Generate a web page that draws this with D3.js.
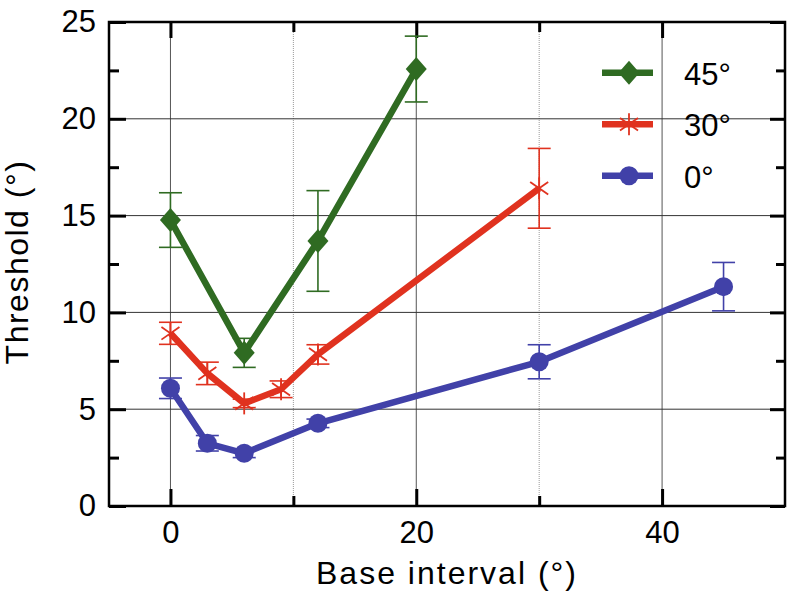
<!DOCTYPE html>
<html><head><meta charset="utf-8">
<script src="https://cdn.jsdelivr.net/npm/d3@7"></script>
<style>body{margin:0;background:#fff}svg{display:block}</style>
</head><body>
<svg id="chart" width="789" height="594"></svg>
<script>
// ---- data ----
const seriesNames = ["45°", "30°", "0°"];
const x45 = [0, 6, 12, 20];
const y45 = [14.77, 7.91, 13.69, 22.57];
const e45 = [1.41, 0.75, 2.6, 1.7];
const x30 = [0, 3, 6, 9, 12, 30];
const y30 = [8.92, 6.85, 5.3, 6.03, 7.83, 16.41];
const e30 = [0.57, 0.58, 0.22, 0.43, 0.5, 2.06];
const x0 = [0, 3, 6, 12, 30, 45];
const y0 = [6.08, 3.24, 2.72, 4.27, 7.45, 11.33];
const e0 = [0.53, 0.4, 0.22, 0.22, 0.88, 1.25];
const xTickLabels = [0, 20, 40];
const xMinorTicks = [10, 30];
const yTickLabels = [0, 5, 10, 15, 20, 25];
const yMinorTicks = [2.5, 7.5, 12.5, 17.5, 22.5];
const yGrid = [5, 10, 15, 20];

const colors = {"45°": "#2f6b22", "30°": "#e0321f", "0°": "#4141a8"};
const markers = {"45°": "diamond", "30°": "star", "0°": "circle"};
const series = [
  {name: "45°", xs: x45, ys: y45, es: e45},
  {name: "30°", xs: x30, ys: y30, es: e30},
  {name: "0°", xs: x0, ys: y0, es: e0}
];

const svg = d3.select("#chart");
const L = 109, R = 785, T = 22, B = 506;
const x = d3.scaleLinear().domain([-5, 50]).range([L, R]);
const y = d3.scaleLinear().domain([0, 25]).range([B, T]);
const font = "'Liberation Sans', Arial, Helvetica, sans-serif";

// grid
const g = svg.append("g");
g.selectAll(".vg").data(xTickLabels).join("line")
  .attr("x1", d => x(d)).attr("x2", d => x(d)).attr("y1", T).attr("y2", B)
  .attr("stroke", "#555").attr("stroke-width", 1);
g.selectAll(".vm").data(xMinorTicks).join("line")
  .attr("x1", d => x(d)).attr("x2", d => x(d)).attr("y1", T).attr("y2", B)
  .attr("stroke", "#999").attr("stroke-width", 1).attr("stroke-dasharray", "1,1");
g.selectAll(".hg").data(yGrid).join("line")
  .attr("x1", L).attr("x2", R).attr("y1", d => y(d)).attr("y2", d => y(d))
  .attr("stroke", "#333").attr("stroke-width", 1);

// axes (ticks inward)
function styleAxis(sel) {
  sel.select(".domain").remove();
  sel.selectAll(".tick line").attr("stroke", "#000").attr("stroke-width", 3);
  sel.selectAll(".tick text").attr("font-family", font).attr("font-size", 31).attr("fill", "#000");
}
svg.append("g").attr("transform", `translate(0,${B})`)
  .call(d3.axisBottom(x).tickValues(xTickLabels).tickSize(-17).tickPadding(15).tickFormat(d3.format("d")))
  .call(styleAxis).selectAll(".tick text").attr("dy", "0.71em");
svg.append("g").attr("transform", `translate(0,${B})`)
  .call(d3.axisBottom(x).tickValues(xMinorTicks).tickSize(-10).tickFormat(""))
  .call(styleAxis);
svg.append("g").attr("transform", `translate(0,${T})`)
  .call(d3.axisTop(x).tickValues(xTickLabels).tickSize(-16).tickFormat(""))
  .call(styleAxis);
svg.append("g").attr("transform", `translate(0,${T})`)
  .call(d3.axisTop(x).tickValues(xMinorTicks).tickSize(-10).tickFormat(""))
  .call(styleAxis);
svg.append("g").attr("transform", `translate(${L},0)`)
  .call(d3.axisLeft(y).tickValues(yTickLabels).tickSize(-17).tickPadding(13).tickFormat(d3.format("d")))
  .call(styleAxis);
svg.append("g").attr("transform", `translate(${L},0)`)
  .call(d3.axisLeft(y).tickValues(yMinorTicks).tickSize(-10).tickFormat(""))
  .call(styleAxis);
svg.append("g").attr("transform", `translate(${R},0)`)
  .call(d3.axisRight(y).tickValues(yTickLabels).tickSize(-15).tickFormat(""))
  .call(styleAxis);
svg.append("g").attr("transform", `translate(${R},0)`)
  .call(d3.axisRight(y).tickValues(yMinorTicks).tickSize(-9).tickFormat(""))
  .call(styleAxis);

// frame
svg.append("rect").attr("x", L).attr("y", T).attr("width", R - L).attr("height", B - T)
  .attr("fill", "none").attr("stroke", "#000").attr("stroke-width", 2.5);

// marker drawing
function drawMarker(sel, type, color) {
  if (type === "diamond") {
    sel.append("path").attr("d", "M0,-12L10.5,0L0,12L-10.5,0Z").attr("fill", color);
  } else if (type === "circle") {
    sel.append("circle").attr("r", 9.5).attr("fill", color);
  } else {
    const r = 11;
    [90, 35, 145].forEach(a => {
      const rad = a * Math.PI / 180;
      sel.append("line")
        .attr("x1", -r * Math.cos(rad)).attr("y1", -r * Math.sin(rad))
        .attr("x2", r * Math.cos(rad)).attr("y2", r * Math.sin(rad))
        .attr("stroke", color).attr("stroke-width", 1.8);
    });
  }
}

const line = d3.line().x(d => x(d[0])).y(d => y(d[1]));
series.forEach(s => {
  const c = colors[s.name];
  const pts = s.xs.map((v, i) => [v, s.ys[i], s.es[i]]);
  const gs = svg.append("g");
  // error bars
  pts.forEach(p => {
    const px = x(p[0]);
    gs.append("line").attr("x1", px).attr("x2", px).attr("y1", y(p[1] - p[2])).attr("y2", y(p[1] + p[2]))
      .attr("stroke", c).attr("stroke-width", 1.6);
    [p[1] - p[2], p[1] + p[2]].forEach(v => {
      gs.append("line").attr("x1", px - 11.5).attr("x2", px + 11.5).attr("y1", y(v)).attr("y2", y(v))
        .attr("stroke", c).attr("stroke-width", 1.6);
    });
  });
  gs.append("path").datum(pts).attr("d", line).attr("fill", "none")
    .attr("stroke", c).attr("stroke-width", 6.5).attr("stroke-linejoin", "round");
  pts.forEach(p => {
    const m = gs.append("g").attr("transform", `translate(${x(p[0])},${y(p[1])})`);
    drawMarker(m, markers[s.name], c);
  });
});

// legend
const legY = [72.7, 124.3, 175.7];
seriesNames.forEach((n, i) => {
  const c = colors[n];
  const lg = svg.append("g").attr("transform", `translate(0,${legY[i]})`);
  lg.append("line").attr("x1", 602).attr("x2", 653).attr("y1", 0).attr("y2", 0)
    .attr("stroke", c).attr("stroke-width", 6.5);
  const m = lg.append("g").attr("transform", "translate(629,0)");
  drawMarker(m, markers[n], c);
  lg.append("text").attr("x", 684).attr("y", 12).attr("font-family", font).attr("font-size", 31)
    .attr("fill", "#000").text(n);
});

// axis titles
svg.append("text").attr("x", 447).attr("y", 584).attr("text-anchor", "middle")
  .attr("font-family", font).attr("font-size", 32).attr("letter-spacing", 2).attr("fill", "#000")
  .text("Base interval (°)");
svg.append("text").attr("transform", `translate(28,262) rotate(-90)`).attr("text-anchor", "middle")
  .attr("font-family", font).attr("font-size", 32).attr("letter-spacing", 1.5).attr("fill", "#000")
  .text("Threshold (°)");
</script>
</body></html>
